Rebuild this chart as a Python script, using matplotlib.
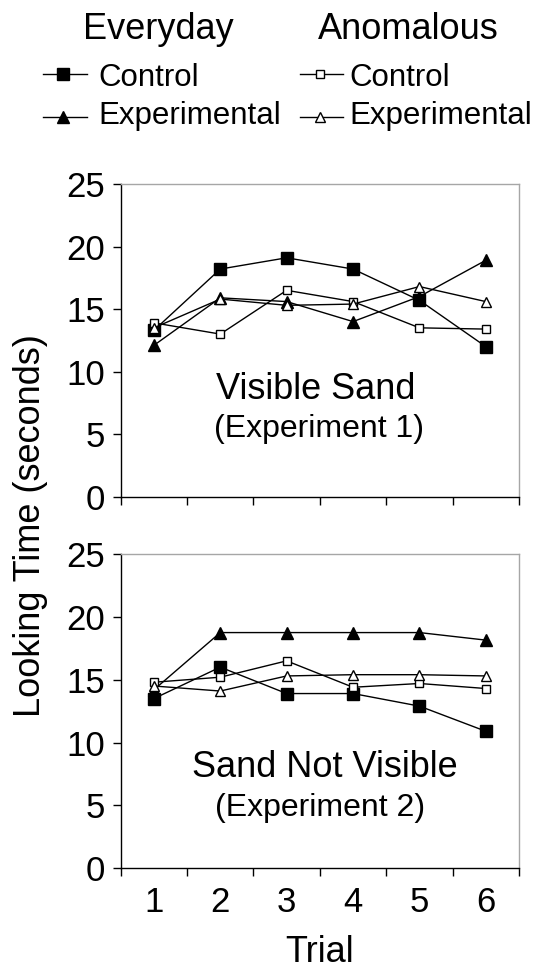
import matplotlib
matplotlib.use("Agg")
import matplotlib.pyplot as plt
from matplotlib.lines import Line2D

plt.rcParams['font.family'] = ['Liberation Sans', 'DejaVu Sans']

trials = [1, 2, 3, 4, 5, 6]
trial_labels = ["1", "2", "3", "4", "5", "6"]
yticks = [0, 5, 10, 15, 20, 25]

# Visible Sand (Experiment 1)
vis_every_ctrl = [13.3, 18.2, 19.1, 18.2, 15.7, 12.0]
vis_every_exp = [12.1, 15.9, 15.6, 14.0, 16.0, 18.9]
vis_anom_ctrl = [13.9, 13.0, 16.5, 15.6, 13.5, 13.4]
vis_anom_exp = [13.5, 15.8, 15.3, 15.4, 16.8, 15.6]

# Sand Not Visible (Experiment 2)
nv_every_ctrl = [13.5, 16.0, 13.9, 13.9, 12.9, 10.9]
nv_every_exp = [14.2, 18.75, 18.75, 18.75, 18.75, 18.15]
nv_anom_ctrl = [14.8, 15.2, 16.5, 14.4, 14.7, 14.3]
nv_anom_exp = [14.5, 14.1, 15.3, 15.4, 15.4, 15.3]

W, H = 538, 971
fig = plt.figure(figsize=(W / 100, H / 100), dpi=100)

def px_axes(left, top, right, bottom):
    return fig.add_axes([left / W, 1 - bottom / H, (right - left) / W, (bottom - top) / H])

styles = [
    dict(marker='s', ms=8, mfc='black', mec='black'),
    dict(marker='^', ms=8.6, mfc='black', mec='black'),
    dict(marker='s', ms=6, mfc='white', mec='black', mew=1.0),
    dict(marker='^', ms=7.8, mfc='white', mec='black', mew=1.0),
]

def setup(ax, series, title, sub, tpos, spos, show_xlabels):
    for s, st in zip(series, styles):
        ax.plot(trials, s, color='black', lw=1.0, clip_on=False, **st)
    ax.set_xlim(0.5, 6.5)
    ax.set_ylim(0, 25)
    ax.set_yticks(yticks)
    ax.set_yticklabels([str(v) for v in yticks], fontsize=25)
    ax.set_xticks([0.5, 1.5, 2.5, 3.5, 4.5, 5.5, 6.5])
    ax.set_xticklabels([])
    ax.set_xticks(trials, minor=True)
    if show_xlabels:
        ax.set_xticklabels(trial_labels, minor=True, fontsize=25)
    else:
        ax.set_xticklabels([], minor=True)
    ax.tick_params(axis='both', which='major', direction='out', length=5.5, width=1.0, color='black', pad=6)
    ax.tick_params(axis='x', which='minor', length=0, pad=13)
    for side in ['left', 'bottom']:
        ax.spines[side].set_color('black')
        ax.spines[side].set_linewidth(1.0)
    for side in ['top', 'right']:
        ax.spines[side].set_color('#a6a6a6')
        ax.spines[side].set_linewidth(1.0)
    ax.text(tpos[0], tpos[1], title, fontsize=26, ha='center', va='baseline')
    ax.text(spos[0], spos[1], sub, fontsize=23, ha='center', va='baseline')

ax1 = px_axes(120.7, 184, 519, 496.7)
setup(ax1, [vis_every_ctrl, vis_every_exp, vis_anom_ctrl, vis_anom_exp],
      "Visible Sand", "(Experiment 1)", (3.43, 7.79), (3.49, 4.8), False)

ax2 = px_axes(120.7, 554, 519, 868.3)
setup(ax2, [nv_every_ctrl, nv_every_exp, nv_anom_ctrl, nv_anom_exp],
      "Sand Not Visible", "(Experiment 2)", (3.58, 7.29), (3.51, 4.16), True)

fig.text(31 / W, 1 - 526 / H, "Looking Time (seconds)", rotation=90, fontsize=26,
         ha='center', va='center')
fig.text(320 / W, 1 - 962 / H, "Trial", fontsize=26, ha='center', va='baseline')

# Legend (manual)
def fx(x):
    return x / W

def fy(y):
    return 1 - y / H

fig.text(fx(83.3), fy(39.3), "Everyday", fontsize=26, ha='left', va='baseline')
fig.text(fx(318), fy(39.3), "Anomalous", fontsize=26, ha='left', va='baseline')

leg_rows = [
    (43, 87, 63, 98, 74, 86, styles[0], "Control"),
    (43, 87, 63, 98, 117.3, 124, styles[1], "Experimental"),
    (300, 343, 320, 349, 74, 86, styles[2], "Control"),
    (300, 343, 320, 349, 117.3, 124, styles[3], "Experimental"),
]
for x0, x1, xm, xt, yl, yb, st, lab in leg_rows:
    fig.add_artist(Line2D([fx(x0), fx(x1)], [fy(yl), fy(yl)], color='black', lw=1.0,
                          transform=fig.transFigure))
    fig.add_artist(Line2D([fx(xm)], [fy(yl)], color='black', lw=0,
                          transform=fig.transFigure, **st))
    fig.text(fx(xt), fy(yb), lab, fontsize=22.5, ha='left', va='baseline')

fig.savefig("out.png", dpi=100)
